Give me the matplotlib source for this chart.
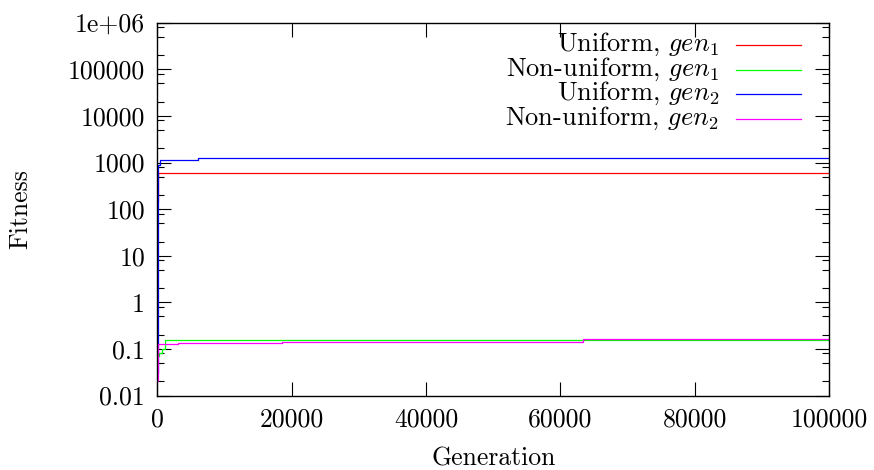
import numpy as np
import matplotlib
matplotlib.use("Agg")
import matplotlib.pyplot as plt
from matplotlib.ticker import FixedLocator, NullLocator

# -----------------------------
# data (step series)
# -----------------------------
gen_uni1 = [0, 60, 100000]
fit_uni1 = [150, 590, 590]

gen_non1 = [0, 200, 700, 1150, 100000]
fit_non1 = [0.07, 0.08, 0.098, 0.158, 0.158]

gen_uni2 = [0, 100, 300, 6100, 100000]
fit_uni2 = [0.03, 900, 1120, 1240, 1240]

gen_non2 = [0, 100, 3100, 18600, 63300, 100000]
fit_non2 = [0.02, 0.129, 0.137, 0.143, 0.165, 0.165]

labels = [r"Uniform, $gen_1$", r"Non-uniform, $gen_1$",
          r"Uniform, $gen_2$", r"Non-uniform, $gen_2$"]
colors = ["#ff0000", "#00ff00", "#0000ff", "#ff00ff"]

y_ticks = [0.01, 0.1, 1, 10, 100, 1000, 10000, 100000, 1e6]
y_ticklabels = ["0.01", "0.1", "1", "10", "100", "1000", "10000", "100000", "1e+06"]
x_ticks = [0, 20000, 40000, 60000, 80000, 100000]

# -----------------------------
# style
# -----------------------------
plt.rcParams["font.family"] = ["cmr10", "DejaVu Serif"]
plt.rcParams["mathtext.fontset"] = "cm"
plt.rcParams["axes.unicode_minus"] = False
FS = 18.5

fig = plt.figure(figsize=(8.74, 4.70), dpi=100)
ax = fig.add_axes([0.1802, 0.1585, 0.9485 - 0.1802, 0.9517 - 0.1585])

series = [(gen_uni1, fit_uni1), (gen_non1, fit_non1),
          (gen_uni2, fit_uni2), (gen_non2, fit_non2)]
for (g, f), c in zip(series, colors):
    ax.plot(g, f, drawstyle="steps-post", color=c, lw=0.9)

ax.set_yscale("log")
ax.set_xlim(0, 100000)
ax.set_ylim(0.01, 1e6)

ax.yaxis.set_major_locator(FixedLocator(y_ticks))
ax.set_yticklabels(y_ticklabels)
minor = [d * m for d in [0.01, 0.1, 1, 10, 100, 1000, 10000, 100000] for m in (2, 5, 8)]
ax.yaxis.set_minor_locator(FixedLocator(minor))
ax.set_xticks(x_ticks)
ax.set_xticklabels([str(v) for v in x_ticks])
ax.xaxis.set_minor_locator(NullLocator())

ax.tick_params(which="both", direction="in", top=True, right=True,
               width=0.8, labelsize=FS)
ax.tick_params(which="major", length=10, pad=9)
ax.tick_params(which="minor", length=5)
ax.tick_params(axis="x", pad=9)
for s in ax.spines.values():
    s.set_linewidth(1.0)

ax.set_xlabel("Generation", fontsize=FS, labelpad=11)
ax.set_ylabel("Fitness", fontsize=FS)
ax.yaxis.set_label_coords(-0.187, 0.5)

# gnuplot-style key: right-aligned text, sample line on the right
rows = [0.941, 0.874, 0.810, 0.743]
for lab, c, yy in zip(labels, colors, rows):
    ax.text(0.836, yy, lab, transform=ax.transAxes, ha="right", va="center",
            fontsize=19.0)
    ax.plot([0.861, 0.958], [yy, yy], transform=ax.transAxes, color=c, lw=0.9)

fig.savefig("out.png", dpi=100)
